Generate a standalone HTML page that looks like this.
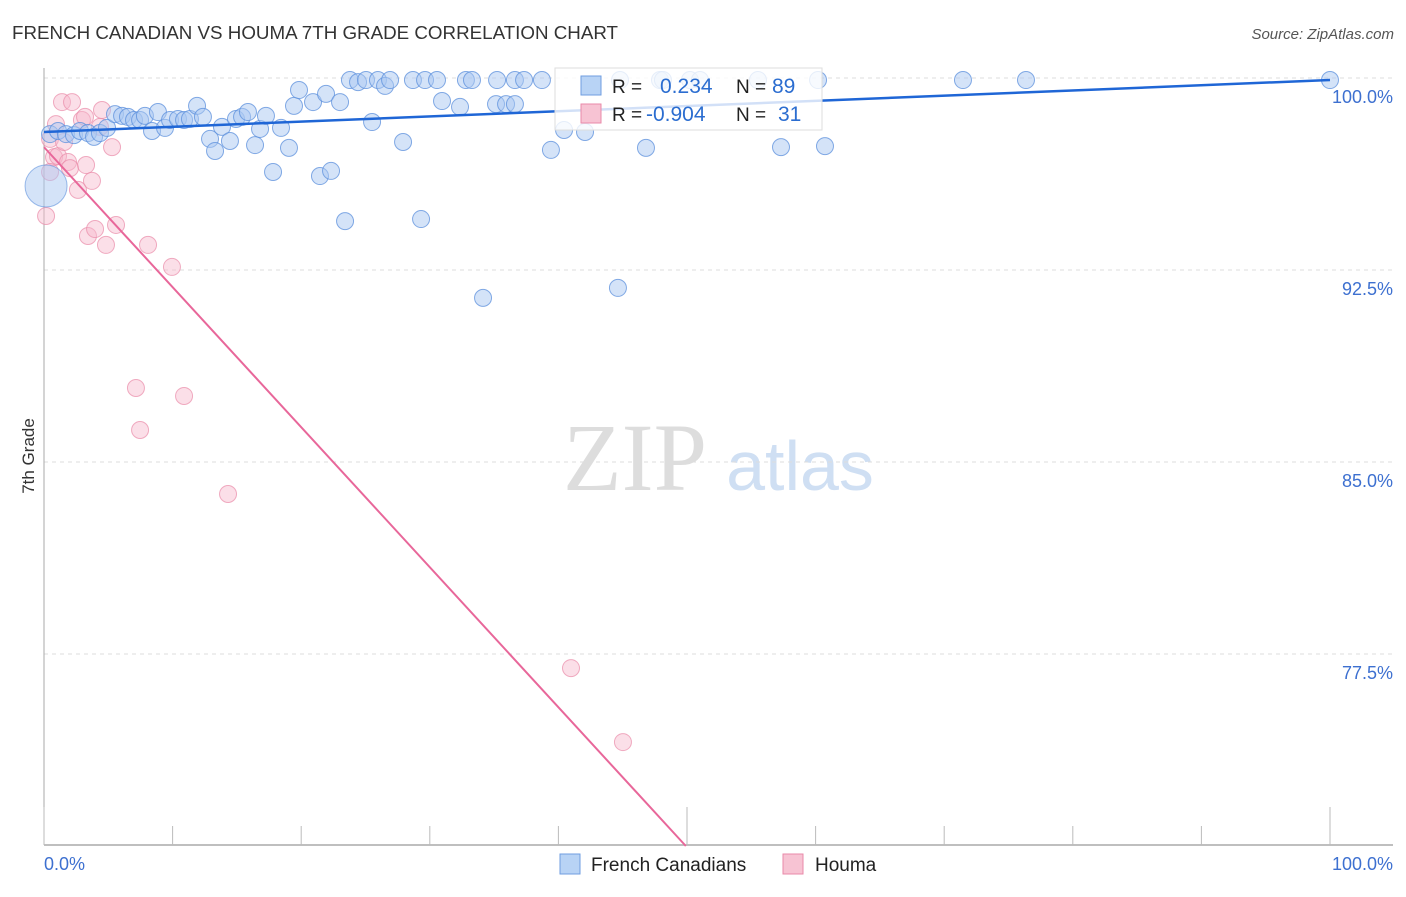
<!DOCTYPE html>
<html><head><meta charset="utf-8"><style>
body{margin:0;background:#fff;font-family:"Liberation Sans",sans-serif;}
svg text{font-family:"Liberation Sans",sans-serif;}
</style></head><body>
<svg id="chart" width="1406" height="892" xmlns="http://www.w3.org/2000/svg">
<text x="12" y="39" font-size="18" fill="#333" textLength="606" lengthAdjust="spacingAndGlyphs">FRENCH CANADIAN VS HOUMA 7TH GRADE CORRELATION CHART</text>
<text x="1394" y="39" font-size="15" fill="#555" text-anchor="end" font-style="italic">Source: ZipAtlas.com</text>
<text x="34" y="456" font-size="17" fill="#333" text-anchor="middle" transform="rotate(-90 34 456)">7th Grade</text>
<g>
<text x="635" y="490" font-size="96" fill="#ddd" text-anchor="middle" font-family="Liberation Serif" style="font-family:'Liberation Serif',serif">ZIP</text>
<text x="800" y="490" font-size="70" fill="#cfdff3" text-anchor="middle">atlas</text>
</g>
<g id="grid"></g><g id="ticks"></g><g id="marks"></g>
<g>
<rect x="555" y="68" width="267" height="62" fill="#fff" fill-opacity="0.8" stroke="#ddd"/>
<rect x="581" y="76" width="20" height="19" fill="#b8d3f5" stroke="#6f9ee0"/>
<text x="612" y="93" font-size="19" fill="#222">R = </text><text x="660" y="93" font-size="21" fill="#2b6dd0">0.234</text>
<text x="736" y="93" font-size="19" fill="#222">N = </text><text x="772" y="93" font-size="21" fill="#2b6dd0">89</text>
<rect x="581" y="104" width="20" height="19" fill="#f7c3d3" stroke="#e98aa8"/>
<text x="612" y="121" font-size="19" fill="#222">R = </text><text x="646" y="121" font-size="21" fill="#2b6dd0">-0.904</text>
<text x="736" y="121" font-size="19" fill="#222">N = </text><text x="778" y="121" font-size="21" fill="#2b6dd0">31</text>
</g>
<g>
<rect x="560" y="854" width="20" height="20" fill="#b8d3f5" stroke="#6f9ee0"/>
<text x="591" y="871" font-size="19" fill="#222">French Canadians</text>
<rect x="783" y="854" width="20" height="20" fill="#f7c3d3" stroke="#e98aa8"/>
<text x="815" y="871" font-size="19" fill="#222">Houma</text>
</g>
</svg>
<script>
const blueX=[0.47,1.09,1.71,2.33,2.80,3.42,3.89,4.35,4.90,5.52,6.07,6.53,7.00,7.47,7.85,8.40,8.86,9.41,9.80,10.42,10.89,11.35,11.90,12.36,12.91,13.30,13.84,14.46,14.93,15.40,15.86,16.41,16.80,17.26,17.81,18.43,19.05,19.44,19.83,20.92,21.46,21.93,22.32,23.02,23.41,23.79,24.42,25.04,25.51,25.97,26.52,26.91,27.92,28.69,29.32,29.63,30.56,30.95,32.35,32.81,33.28,34.14,35.23,35.15,35.93,36.62,36.62,37.33,38.72,39.42,40.44,42.07,44.63,46.81,47.90,50.23,57.31,60.19,60.73,71.46,76.36,100,44.79,48.13,51.01,55.52];
const blueY=[97.81,97.93,97.81,97.77,97.93,97.85,97.70,97.85,98.05,98.59,98.52,98.48,98.36,98.36,98.52,97.93,98.67,98.05,98.36,98.40,98.36,98.40,98.91,98.48,97.62,97.15,98.09,97.54,98.40,98.48,98.67,97.38,98.01,98.52,96.33,98.05,97.27,98.91,99.53,99.06,96.17,99.38,96.37,99.06,94.41,99.92,99.84,99.92,98.28,99.92,99.69,99.92,97.50,99.92,94.49,99.92,99.92,99.10,98.87,99.92,99.92,91.41,99.92,98.98,98.98,98.98,99.92,99.92,99.92,97.19,97.97,97.89,91.80,97.27,99.92,99.92,97.30,99.92,97.34,99.92,99.92,99.92,99.92,99.92,99.92,99.92];
const bigX=[0.16], bigY=[95.78];
const pinkX=[0.16,0.47,0.78,1.09,1.40,1.56,1.87,2.02,2.18,2.64,2.95,3.27,3.42,3.73,3.97,4.35,4.51,4.82,5.29,5.60,7.15,7.47,8.09,9.95,10.89,14.31,40.98,45.02,0.47,0.93,3.19];
const pinkY=[94.61,97.62,96.91,96.95,99.06,97.50,96.72,96.48,99.06,95.63,98.36,96.60,93.83,95.98,94.10,98.09,98.75,93.48,97.30,94.26,87.89,86.25,93.48,92.62,87.58,83.75,76.95,74.06,96.33,98.20,98.48];
const blueTrend=[97.89,99.92];
const pinkTrend=[97.30,-0.547];
const yTicks=[100,92.5,85,77.5];
const yTickLabels=["100.0%","92.5%","85.0%","77.5%"];
const xTicks=[0,10,20,30,40,50,60,70,80,90,100];
const NS="http://www.w3.org/2000/svg";
const sx=v=>44+v*12.86, sy=v=>78+(100-v)*25.6;
function mk(t,a,p){const e=document.createElementNS(NS,t);for(const k in a)e.setAttribute(k,a[k]);p.appendChild(e);return e;}
const grid=document.getElementById('grid'),ticks=document.getElementById('ticks'),marks=document.getElementById('marks');
yTicks.forEach((v,i)=>{
 const l=mk('line',{x1:44,x2:1393,y1:sy(v),y2:sy(v),stroke:'#ddd','stroke-dasharray':'4 4'},grid);
 
 
 const t=mk('text',{x:1393,y:sy(v)+25,'font-size':18,fill:'#3d70d0','text-anchor':'end'},grid);t.textContent=yTickLabels[i];
 
 
});
const ax=mk('line',{x1:44,x2:1393,y1:845,y2:845,stroke:'#aaa','stroke-width':1.5},ticks);


const ay=mk('line',{x1:44,x2:44,y1:68,y2:845,stroke:'#aaa'},ticks);


xTicks.forEach(v=>{
 const tk=mk('line',{x1:sx(v),x2:sx(v),y1:(v%50===0?807:826),y2:845,stroke:'#bbb'},ticks);
 
 
});
const x0=mk('text',{x:44,y:870,'font-size':18,fill:'#3d70d0'},ticks);x0.textContent='0.0%';


const x1=mk('text',{x:1393,y:870,'font-size':18,fill:'#3d70d0','text-anchor':'end'},ticks);x1.textContent='100.0%';


pinkX.forEach((x,i)=>{
 const c=mk('circle',{cx:sx(x),cy:sy(pinkY[i]),r:8.5,fill:'#f7b9cc','fill-opacity':0.45,stroke:'#e98aa8','stroke-opacity':0.7},marks);
 
 
});
bigX.forEach((x,i)=>{
 const c=mk('circle',{cx:sx(x),cy:sy(bigY[i]),r:21,fill:'#a9c8f1','fill-opacity':0.5,stroke:'#5b8fdc','stroke-opacity':0.6},marks);
 
 
});
blueX.forEach((x,i)=>{
 const c=mk('circle',{cx:sx(x),cy:sy(blueY[i]),r:8.5,fill:'#a9c8f1','fill-opacity':0.5,stroke:'#5b8fdc','stroke-opacity':0.75},marks);
 
 
});
const bt=mk('line',{x1:sx(0),y1:sy(blueTrend[0]),x2:sx(100),y2:sy(blueTrend[1]),stroke:'#1f66d6','stroke-width':2.5},marks);


const pxEnd=(70-pinkTrend[0])/pinkTrend[1];
const pt=mk('line',{x1:sx(0),y1:sy(pinkTrend[0]),x2:sx(pxEnd),y2:sy(70),stroke:'#e8679a','stroke-width':2},marks);


</script>
</body></html>
